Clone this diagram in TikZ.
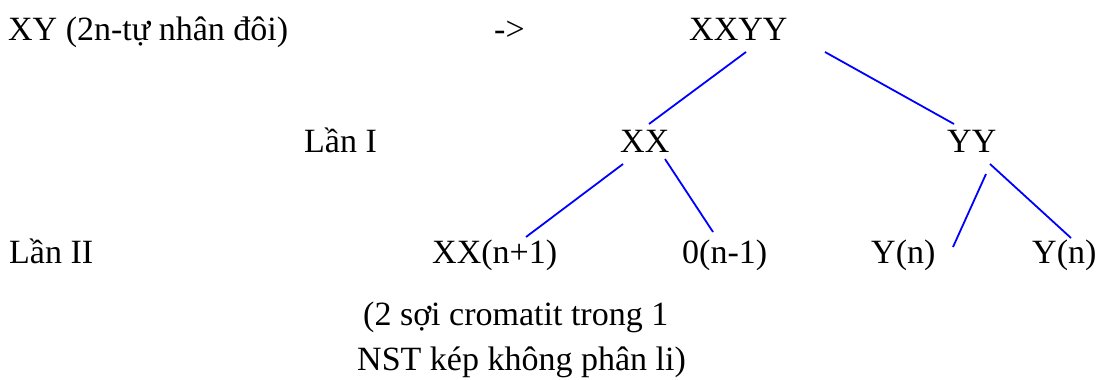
\documentclass[tikz,border=0pt]{standalone}
\usepackage{fontspec}
\setmainfont{Liberation Serif}
\begin{document}
\begin{tikzpicture}[x=1pt,y=-1pt,
  lbl/.style={anchor=base west,inner sep=0pt,font=\fontsize{34}{40}\selectfont},
  conn/.style={draw={rgb,255:red,0;green,0;blue,255},line width=1.8pt}]
\useasboundingbox (0,0) rectangle (1101,380);
% texts
\node[lbl] (xy) at (8,40) {XY (2n-tự nhân đôi)};
\node[lbl] (arrow) at (494,40) {->};
\node[lbl] (xxyy) at (689,40) {XXYY};
\node[lbl] (lan1) at (304,152) {Lần I};
\node[lbl] (xx) at (620,152) {XX};
\node[lbl] (yy) at (947,152) {YY};
\node[lbl] (lan2) at (9,263) {Lần II};
\node[lbl] (xxn) at (432,263) {XX(n+1)};
\node[lbl] (zero) at (682,263) {0(n-1)};
\node[lbl] (yn1) at (871,263) {Y(n)};
\node[lbl] (yn2) at (1032,263) {Y(n)};
\node[lbl] (note1) at (363,325) {(2 sợi cromatit trong 1};
\node[lbl] (note2) at (357,370) {NST kép không phân li)};
% connector ends
\coordinate (a1s) at (746,52);  \coordinate (a1e) at (649,124);
\coordinate (a2s) at (825,52);  \coordinate (a2e) at (954,124);
\coordinate (b1s) at (623,164); \coordinate (b1e) at (526,237);
\coordinate (b2s) at (665,159); \coordinate (b2e) at (713,232);
\coordinate (c1s) at (986,174); \coordinate (c1e) at (953,247);
\coordinate (c2s) at (990,164); \coordinate (c2e) at (1071,238);
\draw[conn] (a1s) -- (a1e);
\draw[conn] (a2s) -- (a2e);
\draw[conn] (b1s) -- (b1e);
\draw[conn] (b2s) -- (b2e);
\draw[conn] (c1s) -- (c1e);
\draw[conn] (c2s) -- (c2e);
\end{tikzpicture}
\end{document}
